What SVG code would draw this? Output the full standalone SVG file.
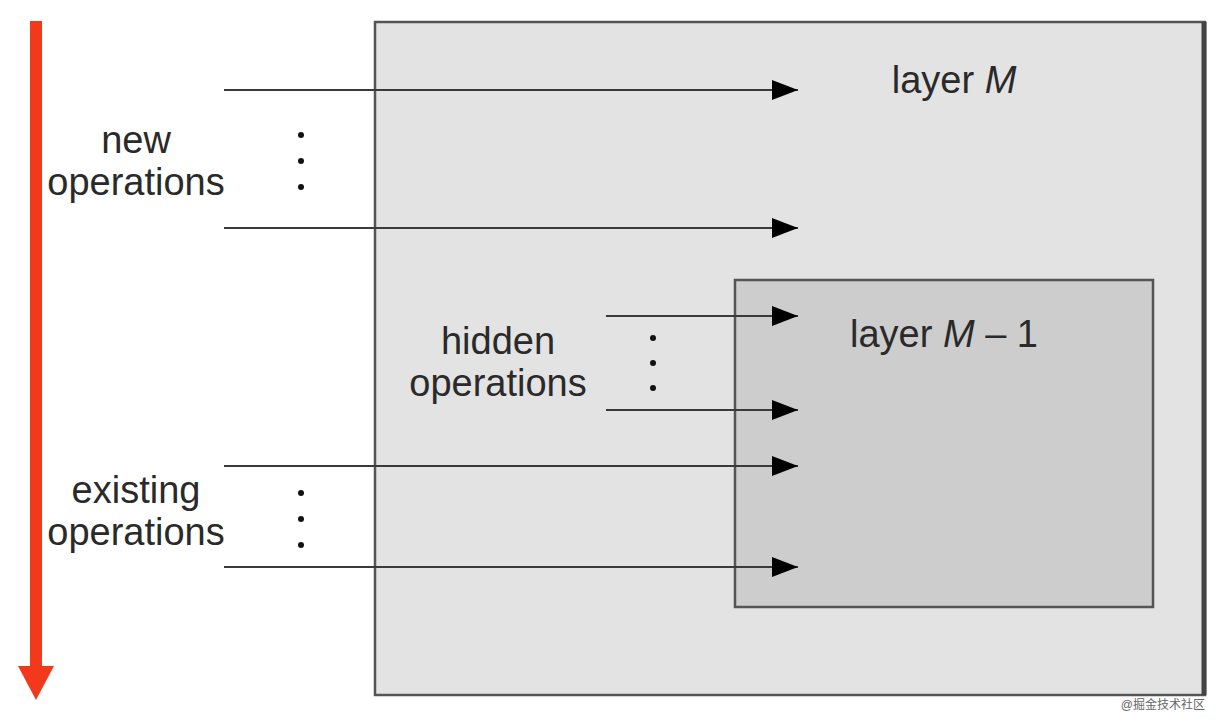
<svg xmlns="http://www.w3.org/2000/svg" width="1221" height="724" viewBox="0 0 1221 724">
<style>
.lbl{font-family:"Liberation Sans",Arial,sans-serif;font-size:38px;fill:#2a2a2a;text-anchor:middle}
.conn{stroke:#3a3a3a;stroke-width:2.2;fill:none}
.dot{fill:#111}
</style>
<defs>
<marker id="ah" markerUnits="userSpaceOnUse" markerWidth="28" markerHeight="22" refX="26" refY="10" orient="auto">
<path d="M0,0 L26,10 L0,20 Z" fill="#000"/>
</marker>
</defs>
<rect width="1221" height="724" fill="#fff"/>
<g id="red-arrow">
<rect x="30" y="21" width="12" height="647" fill="#f2391c"/>
<path d="M18,666 L54,666 L36,700 Z" fill="#f2391c"/>
</g>
<g id="layerM">
<rect x="375" y="22" width="830" height="673" fill="#e3e3e3" stroke="#555" stroke-width="2.5"/>
<line x1="1204" y1="22" x2="1204" y2="695" stroke="#444" stroke-width="5"/>
<text class="lbl" x="954" y="93">layer <tspan font-style="italic">M</tspan></text>
</g>
<g id="layerM1">
<rect x="735" y="280" width="418" height="327" fill="#cdcdcd" stroke="#555" stroke-width="2.5"/>
<text class="lbl" x="944" y="347">layer <tspan font-style="italic">M</tspan> – 1</text>
</g>
<g id="new-ops">
<text class="lbl" x="136" y="153">new</text>
<text class="lbl" x="136" y="195">operations</text>
<circle class="dot" cx="301" cy="135" r="3"/>
<circle class="dot" cx="301" cy="161" r="3"/>
<circle class="dot" cx="301" cy="187" r="3"/>
</g>
<g id="hidden-ops">
<text class="lbl" x="498" y="354">hidden</text>
<text class="lbl" x="498" y="396">operations</text>
<circle class="dot" cx="653" cy="338" r="3"/>
<circle class="dot" cx="653" cy="363" r="3"/>
<circle class="dot" cx="653" cy="388" r="3"/>
</g>
<g id="existing-ops">
<text class="lbl" x="136" y="503">existing</text>
<text class="lbl" x="136" y="545">operations</text>
<circle class="dot" cx="301" cy="493" r="3"/>
<circle class="dot" cx="301" cy="519" r="3"/>
<circle class="dot" cx="301" cy="545" r="3"/>
</g>
<g id="connectors">
<line class="conn" x1="224" y1="90" x2="798" y2="90" marker-end="url(#ah)"/>
<line class="conn" x1="224" y1="228" x2="798" y2="228" marker-end="url(#ah)"/>
<line class="conn" x1="606" y1="316" x2="798" y2="316" marker-end="url(#ah)"/>
<line class="conn" x1="606" y1="410" x2="798" y2="410" marker-end="url(#ah)"/>
<line class="conn" x1="224" y1="466" x2="798" y2="466" marker-end="url(#ah)"/>
<line class="conn" x1="224" y1="567" x2="798" y2="567" marker-end="url(#ah)"/>
</g>
<text x="1205" y="709" font-family="'Liberation Sans','Noto Sans CJK SC',sans-serif" font-size="12" fill="#666" text-anchor="end">@掘金技术社区</text>
</svg>
